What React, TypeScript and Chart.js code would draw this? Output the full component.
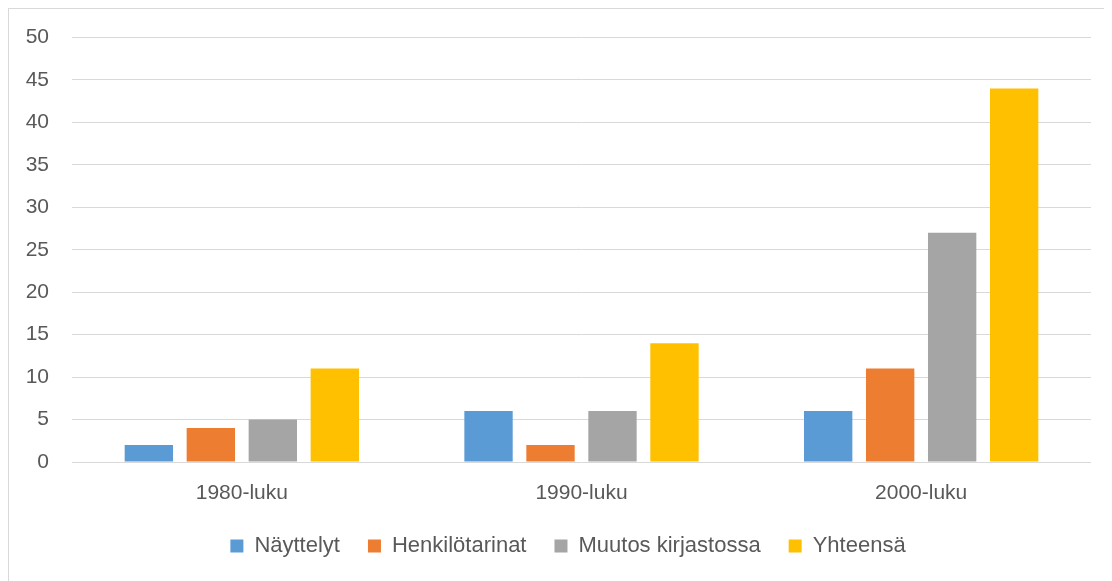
import React, { useEffect, useRef } from "react";
import { Chart, registerables } from "chart.js";

Chart.register(...registerables);

const categories = ["1980-luku", "1990-luku", "2000-luku"];
const seriesNames = ["Näyttelyt", "Henkilötarinat", "Muutos kirjastossa", "Yhteensä"];
const nayttelyt = [2, 6, 6];
const henkilotarinat = [4, 2, 11];
const muutosKirjastossa = [5, 6, 27];
const yhteensa = [11, 14, 44];
const seriesColors = ["#5B9BD5", "#ED7D31", "#A5A5A5", "#FFC000"];
const yTicks = { min: 0, max: 50, step: 5 };

const FONT = "'Liberation Sans', Arial, sans-serif";
const TEXT = "#595959";
const GRID = "#D9D9D9";

const shiftLegend = {
  id: "shiftLegend",
  afterLayout(chart: any) {
    if (chart.legend) {
      chart.legend.left += 18;
      chart.legend.right += 18;
    }
  },
};

export default function App() {
  const ref = useRef<HTMLCanvasElement | null>(null);

  useEffect(() => {
    document.documentElement.style.overflow = "hidden";
    document.body.style.overflow = "hidden";
    if (!ref.current) return;
    const values = [nayttelyt, henkilotarinat, muutosKirjastossa, yhteensa];
    const chart = new Chart(ref.current, {
      type: "bar",
      data: {
        labels: categories,
        datasets: seriesNames.map((name, i) => ({
          label: name,
          data: values[i],
          backgroundColor: seriesColors[i],
          borderWidth: 0,
          categoryPercentage: 0.73,
          barPercentage: 0.78,
        })),
      },
      plugins: [shiftLegend],
      options: {
        animation: false,
        responsive: false,
        maintainAspectRatio: false,
        layout: { padding: { top: 28.5, left: 0, right: 21, bottom: 14 } },
        plugins: {
          tooltip: { enabled: false },
          legend: {
            position: "bottom",
            labels: {
              boxWidth: 13,
              boxHeight: 13,
              padding: 28,
              color: TEXT,
              font: { family: FONT, size: 22 },
            },
          },
        },
        scales: {
          x: {
            afterFit: (scale: any) => {
              scale.height = 45;
            },
            grid: { display: false },
            border: { display: false },
            ticks: {
              color: TEXT,
              padding: 11,
              font: { family: FONT, size: 21 },
            },
          },
          y: {
            min: yTicks.min,
            max: yTicks.max,
            afterFit: (scale: any) => {
              scale.width = 63;
              scale.paddingTop = 0;
              scale.paddingBottom = 0;
            },
            grid: { color: GRID, lineWidth: 1, drawTicks: false },
            border: { display: false },
            ticks: {
              stepSize: yTicks.step,
              color: TEXT,
              padding: 23,
              font: { family: FONT, size: 21 },
            },
          },
        },
      },
    });
    return () => chart.destroy();
  }, []);

  return (
    <div
      style={{
        position: "relative",
        width: 1104,
        height: 573,
        boxSizing: "border-box",
        borderLeft: "1px solid #D9D9D9",
        borderTop: "1px solid #D9D9D9",
        background: "#fff",
      }}
    >
      <canvas ref={ref} width={1103} height={572} style={{ display: "block", width: 1103, height: 572 }} />
    </div>
  );
}
